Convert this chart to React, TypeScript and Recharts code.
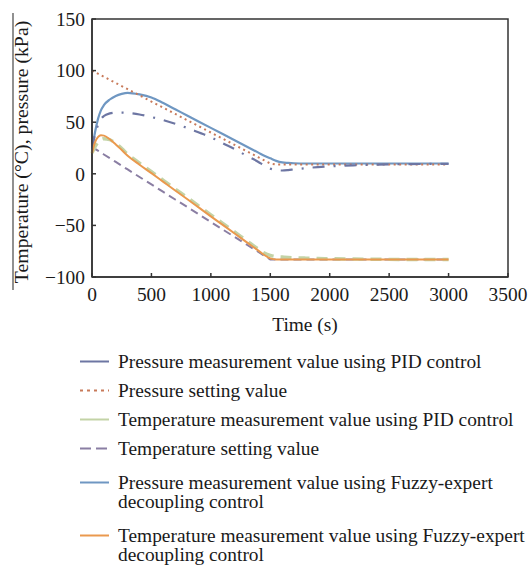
import React from "react";
import { LineChart, Line, XAxis, YAxis, Legend, ReferenceArea } from "recharts";

const FONT = '"Liberation Serif", "Times New Roman", serif';
const INK = "#1a1a1a";
const AXIS = "#333333";

// time (s)
const times = [
  0, 25, 50, 75, 100, 150, 200, 250, 300, 400, 500, 600, 700, 800, 900, 1000,
  1100, 1200, 1300, 1400, 1450, 1500, 1550, 1600, 1650, 1700, 1800, 1900, 2000,
  2200, 2400, 2600, 2800, 3000,
];

// pressure (kPa)
const pressurePid = [
  25, 38, 47, 53, 56, 58.5, 59.3, 59.3, 59, 57.5, 55, 52, 48.5, 44.5, 40, 35.5,
  29.5, 24, 17.5, 11.5, 8, 5, 3.5, 3.2, 3.6, 4.3, 5.5, 6.5, 7.2, 8.2, 8.9, 9.3,
  9.5, 9.6,
];
const pressureSet = [
  100, 98.5, 97, 95.5, 94, 91, 88, 85, 82, 76, 70, 64, 58, 52, 46, 40, 34, 28,
  22, 16, 13, 10, 9, 9, 9, 9, 9, 9, 9, 9, 9, 9, 9, 9,
];
const pressureFuzzy = [
  23, 40, 53, 61.5, 66.5, 72, 75.5, 77.5, 78.5, 77, 74, 68.5, 62.5, 56.5, 50.5,
  44.5, 38.5, 32.5, 26.5, 20.5, 17.5, 15, 12.5, 11, 10.5, 10.2, 10, 10, 10, 10,
  10, 10, 10, 10,
];

// temperature (°C)
const temperaturePid = [
  20, 26, 30.5, 33, 34, 33, 29.5, 24.5, 19, 10.3, 2, -6.3, -14.7, -22.9, -31.3,
  -39.7, -48, -56.3, -64.7, -73, -76.7, -79, -80.2, -80.6, -81, -81.3, -81.7,
  -82, -82.3, -82.6, -82.8, -83, -83, -83,
];
const temperatureSet = [
  26, 24.2, 22.4, 20.5, 18.7, 15.1, 11.5, 7.8, 4.2, -3.1, -10.3, -17.6, -24.9,
  -32.1, -39.4, -46.7, -54, -61.2, -68.5, -75.7, -79.4, -83, -83, -83, -83, -83,
  -83, -83, -83, -83, -83, -83, -83, -83,
];
const temperatureFuzzy = [
  20, 30.5, 35.5, 37.3, 37, 33.5, 28.5, 23, 17.5, 8.8, 0.6, -7.8, -16.2, -24.4,
  -32.8, -41.2, -49.5, -57.8, -66.2, -74.4, -78.7, -82, -83, -83, -83, -83, -83,
  -83, -83, -83, -83, -83, -83, -83,
];

const xTicks = [0, 500, 1000, 1500, 2000, 2500, 3000, 3500];
const yTicks = [-100, -50, 0, 50, 100, 150];

const legendLabels = [
  "Pressure measurement value using PID control",
  "Pressure setting value",
  "Temperature measurement value using PID control",
  "Temperature setting value",
  "Pressure measurement value using Fuzzy-expert\ndecoupling control",
  "Temperature measurement value using Fuzzy-expert\ndecoupling control",
];

const data = times.map((t, i) => ({
  t,
  pPid: pressurePid[i],
  pSet: pressureSet[i],
  tPid: temperaturePid[i],
  tSet: temperatureSet[i],
  pFz: pressureFuzzy[i],
  tFz: temperatureFuzzy[i],
}));

// legend order
const SERIES = [
  { key: "pPid", color: "#6d76a3", width: 2.2, dash: "12 9 2 9", icon: undefined, type: "monotone" },
  { key: "pSet", color: "#c87a5a", width: 2, dash: "2 3.5", icon: "3 4", type: "linear" },
  { key: "tPid", color: "#c3d3a6", width: 3.4, dash: "11 7", icon: undefined, type: "monotone" },
  { key: "tSet", color: "#8a7ea3", width: 2, dash: "8 5", icon: "11 5", type: "linear" },
  { key: "pFz", color: "#6f97c2", width: 2.2, dash: undefined, icon: undefined, type: "monotone" },
  { key: "tFz", color: "#ea994e", width: 2, dash: undefined, icon: undefined, type: "monotone" },
];

// paint order in the plot
const DRAW_ORDER = ["pFz", "pSet", "pPid", "tSet", "tPid", "tFz"];

const fmtY = (v: number) => (v < 0 ? `\u2212${-v}` : `${v}`);

const YLabel = (props: any) => {
  const vb = props.viewBox || { x: 32, y: 19, width: 60, height: 258 };
  const cx = vb.x - 4;
  const cy = vb.y + vb.height / 2 + 4;
  return (
    <g>
      <line
        x1={vb.x - 19}
        x2={vb.x - 19}
        y1={vb.y - 6}
        y2={vb.y + vb.height + 13}
        stroke="#555"
        strokeWidth={1.3}
      />
      <text
        x={cx}
        y={cy}
        transform={`rotate(-90, ${cx}, ${cy})`}
        textAnchor="middle"
        fontFamily={FONT}
        fontSize={19.8}
        fill={INK}
      >
        Temperature (°C), pressure (kPa)
      </text>
    </g>
  );
};

const XLabel = (props: any) => {
  const vb = props.viewBox || { x: 92, y: 277, width: 416, height: 60 };
  return (
    <text
      x={vb.x + vb.width / 2 + 5}
      y={vb.y + 54}
      textAnchor="middle"
      fontFamily={FONT}
      fontSize={19.4}
      fill={INK}
    >
      Time (s)
    </text>
  );
};

const renderLegend = () => (
  <div style={{ fontFamily: FONT, fontSize: 19.4, lineHeight: "19px", color: INK }}>
    {SERIES.map((s, i) => {
      const multi = legendLabels[i].includes("\n");
      const prevMulti = i > 0 && legendLabels[i - 1].includes("\n");
      return (
        <div
          key={s.key}
          style={{
            display: "flex",
            alignItems: "flex-start",
            marginTop: i === 0 ? 0 : multi || prevMulti ? 15 : 10,
          }}
        >
          <svg width={29} height={19} style={{ flex: "none" }}>
            <line
              x1={0}
              x2={29}
              y1={9.5}
              y2={9.5}
              stroke={s.color}
              strokeWidth={2}
              strokeDasharray={s.icon}
            />
          </svg>
          <span style={{ marginLeft: 9, whiteSpace: "pre" }}>{legendLabels[i]}</span>
        </div>
      );
    })}
  </div>
);

export default function App() {
  return (
    <div style={{ position: "absolute", left: 0, top: 0, background: "#fff" }}>
      <LineChart
        width={532}
        height={566}
        data={data}
        margin={{ top: 19, right: 24, left: 32, bottom: 229 }}
      >
        <XAxis
          type="number"
          dataKey="t"
          domain={[0, 3500]}
          ticks={xTicks}
          interval={0}
          height={60}
          stroke={AXIS}
          strokeWidth={1.5}
          tickSize={-4}
          tickMargin={14}
          tick={{ fontSize: 19.4, fill: INK, fontFamily: FONT }}
          label={XLabel}
        />
        <YAxis
          type="number"
          domain={[-100, 150]}
          ticks={yTicks}
          interval={0}
          width={60}
          stroke={AXIS}
          strokeWidth={1.5}
          tickSize={-4}
          tickMargin={11}
          tickFormatter={fmtY}
          tick={{ fontSize: 19.4, fill: INK, fontFamily: FONT }}
          label={YLabel}
        />
        <ReferenceArea
          x1={0}
          x2={3500}
          y1={-100}
          y2={150}
          fill="none"
          stroke={AXIS}
          strokeWidth={1.5}
        />
        {DRAW_ORDER.map((k) => {
          const s = SERIES.find((x) => x.key === k)!;
          return (
            <Line
              key={k}
              type={s.type as any}
              dataKey={k}
              stroke={s.color}
              strokeWidth={s.width}
              strokeDasharray={s.dash}
              dot={false}
              activeDot={false}
              isAnimationActive={false}
            />
          );
        })}
        <Legend
          layout="vertical"
          align="center"
          verticalAlign="middle"
          wrapperStyle={{ left: 80, top: 352, width: 452 }}
          content={renderLegend}
        />
      </LineChart>
    </div>
  );
}
